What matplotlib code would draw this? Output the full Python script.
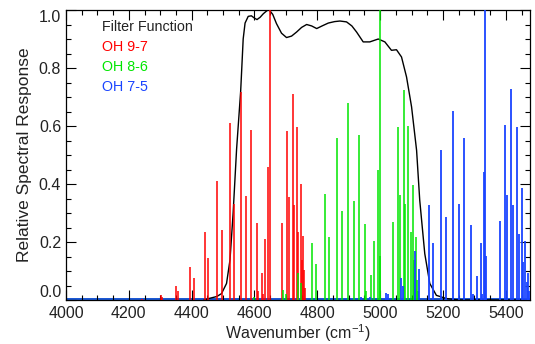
"""Relative spectral response of the filter with OH 9-7, 8-6 and 7-5 band lines."""

import matplotlib
matplotlib.use("Agg")
import matplotlib.pyplot as plt
from matplotlib.ticker import MultipleLocator

# Filter function (wavenumber in cm^-1, relative response)
filter_wn = [4440, 4458, 4480, 4495, 4511, 4522, 4532, 4543, 4556, 4564, 4570,
             4580, 4590, 4600, 4608, 4618, 4628, 4640, 4647, 4658, 4670, 4686,
             4702, 4718, 4734, 4750, 4766, 4782, 4798, 4815, 4835, 4855, 4872,
             4893, 4910, 4925, 4946, 4967, 4994, 5015, 5036, 5052, 5068, 5084,
             5100, 5116, 5126, 5142, 5158, 5179, 5211, 5250, 5480]
filter_resp = [0.0, 0.006, 0.012, 0.022, 0.057, 0.138, 0.30, 0.52, 0.72, 0.90,
               0.955, 0.978, 0.98, 0.972, 0.967, 0.975, 0.987, 0.998, 1.0, 0.985,
               0.953, 0.92, 0.905, 0.91, 0.924, 0.94, 0.95, 0.945, 0.936, 0.945,
               0.955, 0.96, 0.962, 0.959, 0.945, 0.924, 0.89, 0.89, 0.90, 0.89,
               0.861, 0.863, 0.838, 0.769, 0.666, 0.516, 0.344, 0.16, 0.057,
               0.016, 0.005, 0.0, 0.0]

# OH 9-7 lines
oh97_wn = [4241, 4301, 4307, 4350, 4358, 4396, 4407, 4441, 4453, 4481, 4495,
           4521, 4535, 4556, 4572, 4588, 4607, 4612, 4623, 4628, 4634, 4644,
           4649, 4689, 4705, 4710, 4722, 4726, 4736, 4740, 4747, 4752, 4755,
           4759, 4762]
oh97_val = [0.005, 0.017, 0.01, 0.048, 0.03, 0.115, 0.075, 0.233, 0.145, 0.41,
            0.24, 0.61, 0.33, 0.718, 0.358, 0.586, 0.265, 0.03, 0.092, 0.02,
            0.209, 0.457, 1.0, 0.267, 0.584, 0.356, 0.712, 0.327, 0.596, 0.236,
            0.40, 0.138, 0.222, 0.103, 0.04]

# OH 8-6 lines
oh86_wn = [4600, 4690, 4700, 4738, 4749, 4782, 4795, 4824, 4838, 4863, 4878,
           4899, 4916, 4932, 4952, 4955, 4971, 4982, 4992, 4999, 5001, 5040,
           5058, 5063, 5075, 5080, 5090, 5097, 5103, 5108, 5114, 5118, 5122]
oh86_val = [0.01, 0.034, 0.02, 0.092, 0.06, 0.198, 0.124, 0.366, 0.216, 0.557,
            0.308, 0.68, 0.341, 0.569, 0.262, 0.03, 0.086, 0.205, 0.448, 1.0,
            0.152, 0.27, 0.598, 0.362, 0.724, 0.331, 0.60, 0.236, 0.397, 0.138,
            0.216, 0.07, 0.03]

# OH 7-5 lines
oh75_wn = [4940, 4968, 5019, 5024, 5067, 5072, 5111, 5123, 5155, 5168, 5195,
           5211, 5232, 5250, 5266, 5288, 5294, 5309, 5320, 5324, 5329, 5333,
           5335, 5338, 5381, 5399, 5405, 5418, 5424, 5435, 5442, 5450, 5455,
           5460, 5466, 5470, 5474]
oh75_val = [0.01, 0.01, 0.025, 0.02, 0.075, 0.05, 0.17, 0.106, 0.326, 0.195,
            0.517, 0.287, 0.652, 0.33, 0.557, 0.257, 0.02, 0.082, 0.195, 0.02,
            0.442, 0.05, 1.0, 0.152, 0.273, 0.604, 0.362, 0.726, 0.329, 0.595,
            0.229, 0.385, 0.13, 0.203, 0.063, 0.092, 0.03]

y_ticks = [0.0, 0.2, 0.4, 0.6, 0.8, 1.0]
x_ticks = [4000, 4200, 4400, 4600, 4800, 5000, 5200, 5400]

RED = "#ff0000"
GREEN = "#00e600"
BLUE = "#1a44ff"
TEXT = "#222222"


def main():
    plt.rcParams["font.family"] = ["Liberation Sans", "DejaVu Sans"]
    plt.rcParams["mathtext.default"] = "regular"

    fig = plt.figure(figsize=(5.35, 3.44), dpi=100)
    ax = fig.add_axes([66 / 535, 44 / 344, 464 / 535, 290 / 344])

    ax.plot(filter_wn, filter_resp, color="black", lw=1.0, zorder=2)

    # baselines of the stick spectra
    for color in (RED, GREEN, BLUE):
        ax.axhline(0.002, color=color, lw=1.2, zorder=1)

    ax.vlines(oh97_wn, 0, oh97_val, color=RED, lw=1.1, zorder=3)
    ax.vlines(oh86_wn, 0, oh86_val, color=GREEN, lw=1.1, zorder=3)
    ax.vlines(oh75_wn, 0, oh75_val, color=BLUE, lw=1.3, zorder=3)

    ax.set_xlim(4000, 5477)
    ax.set_ylim(0, 1.0)
    ax.set_xticks(x_ticks)
    ax.set_yticks(y_ticks, [f"{v:.1f}" for v in y_ticks])
    ax.xaxis.set_minor_locator(MultipleLocator(50))
    ax.yaxis.set_minor_locator(MultipleLocator(0.05))
    ax.tick_params(which="both", direction="in", top=True, right=True,
                   labelsize=11.5, labelcolor=TEXT, width=0.8)
    ax.tick_params(which="major", length=7)
    ax.tick_params(which="minor", length=3.5)
    ax.tick_params(axis="x", pad=4)
    for s in ax.spines.values():
        s.set_linewidth(0.9)

    ax.set_xlabel("Wavenumber (cm$^{-1}$)", fontsize=11.5, color=TEXT, labelpad=1)
    ax.set_ylabel("Relative Spectral Response", fontsize=12.5, color=TEXT, labelpad=5)

    # keep the end labels inside the box, like the original
    yt = ax.yaxis.get_major_ticks()
    yt[0].label1.set_va("bottom")
    yt[-1].label1.set_va("top")

    # legend as coloured text
    legend = [("Filter Function", TEXT), ("OH 9-7", RED),
              ("OH 8-6", GREEN), ("OH 7-5", BLUE)]
    for i, (txt, col) in enumerate(legend):
        ax.text(0.078, 0.94 - i * 0.069, txt, color=col, fontsize=10.3,
                transform=ax.transAxes, va="center", ha="left")

    fig.savefig("out.png", dpi=100)


if __name__ == "__main__":
    main()
